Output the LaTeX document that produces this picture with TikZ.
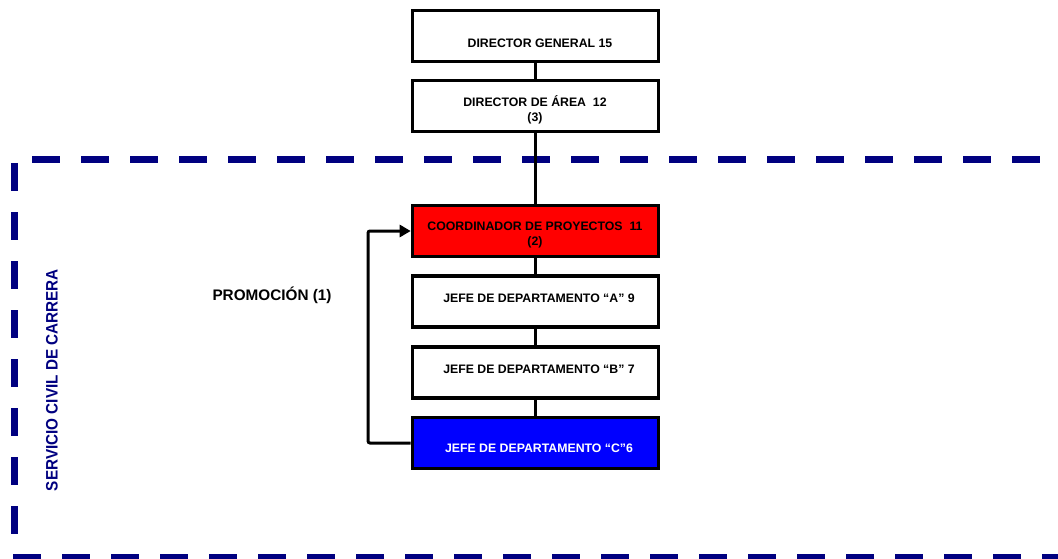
\documentclass[tikz,border=0pt]{standalone}
\usepackage{fontspec}
\setmainfont{Liberation Sans}
\usetikzlibrary{arrows.meta}
\definecolor{navyline}{RGB}{0,0,128}
\definecolor{coordred}{RGB}{255,0,0}
\definecolor{jefeblue}{RGB}{0,0,255}
\begin{document}
\begin{tikzpicture}[x=1pt,y=-1pt,
  posbox/.style={draw=black,line width=3.6pt,minimum width=246pt,minimum height=51pt,inner sep=0pt,fill=white},
  boxtext/.style={font=\fontsize{12.3}{15}\selectfont\bfseries,align=center,inner sep=0pt},
  link/.style={draw=black,line width=2.2pt},
  zone/.style={draw=navyline,line width=7pt,dash pattern=on 28pt off 21pt},
  promo/.style={draw=black,line width=3pt,rounded corners=2pt,-{Triangle[length=11pt,width=12pt]}}]
\useasboundingbox (0,0) rectangle (1058,559);

% career-service zone
\draw[zone] (32,160) -- (1058,160);
\draw[zone] (14,163) -- (14,540);
\draw[zone] (13,557.5) -- (1058,557.5);

% positions
\node[posbox] (dg) at (535.5,36) {};
\node[posbox] (da) at (535.5,106) {};
\node[posbox,fill=coordred] (cp) at (535.5,231) {};
\node[posbox] (ja) at (535.5,301.5) {};
\node[posbox] (jb) at (535.5,372.5) {};
\node[posbox,fill=jefeblue] (jc) at (535.5,443) {};

\node[boxtext] (tdg) at (540,43) {DIRECTOR GENERAL 15};
\node[boxtext] (tda) at (535,110) {DIRECTOR DE ÁREA\ \ 12\\(3)};
\node[boxtext] (tcp) at (535,235) {COORDINADOR DE PROYECTOS\ \ 11\\(2)};
\node[boxtext] (tja) at (539,298) {JEFE DE DEPARTAMENTO “A” 9};
\node[boxtext] (tjb) at (539,369) {JEFE DE DEPARTAMENTO “B” 7};
\node[boxtext,text=white] (tjc) at (539,448) {JEFE DE DEPARTAMENTO “C”6};

% chain of command
\draw[link] (dg) -- (da);
\draw[link] (da) -- (cp);
\draw[link] (cp) -- (ja);
\draw[link] (ja) -- (jb);
\draw[link] (jb) -- (jc);

% promotion loop
\coordinate (lb) at (368,443);
\coordinate (lt) at (368,231);
\draw[promo] (jc.west) -- (lb) -- (lt) -- (cp.west);

\node[font=\fontsize{15.3}{17}\selectfont\bfseries] (promo) at (272,295) {PROMOCIÓN (1)};
\node[text=navyline,rotate=90,inner sep=0pt] (scc) at (52,380)
  {\scalebox{0.92}[1]{\fontsize{16.6}{18}\selectfont\bfseries SERVICIO CIVIL DE CARRERA}};
\end{tikzpicture}
\end{document}
